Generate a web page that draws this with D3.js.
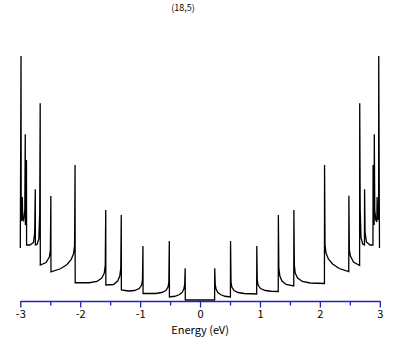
<!DOCTYPE html>
<html>
<head>
<meta charset="utf-8">
<script src="https://cdn.jsdelivr.net/npm/d3@7"></script>
<style>
  body { margin: 0; background: #fff; }
  svg { display: block; }
  text { font-family: "Noto Sans CJK JP", "DejaVu Sans", sans-serif; }
</style>
</head>
<body>
<div id="chart"></div>
<script>
// density of states (energy in eV, DOS in arbitrary units)
const valence = [
  [-3.000, 2.08], [-2.988, 9.76], [-2.985, 3.24], [-2.970, 3.16], [-2.966, 4.12], [-2.960, 3.28],
  [-2.945, 3.20], [-2.925, 3.60], [-2.917, 6.63], [-2.915, 3.00], [-2.904, 3.10], [-2.897, 5.60],
  [-2.895, 2.20], [-2.840, 2.20], [-2.780, 2.30], [-2.760, 2.70], [-2.750, 4.43], [-2.748, 2.20],
  [-2.720, 2.22], [-2.690, 2.45], [-2.676, 3.50], [-2.668, 7.87], [-2.666, 1.40], [-2.570, 1.50],
  [-2.515, 1.72], [-2.498, 2.00], [-2.490, 4.16], [-2.488, 1.13], [-2.330, 1.25], [-2.220, 1.42],
  [-2.150, 1.62], [-2.110, 1.86], [-2.094, 2.18], [-2.086, 5.40], [-2.084, 0.69], [-1.850, 0.69],
  [-1.720, 0.74], [-1.640, 0.88], [-1.598, 1.08], [-1.582, 1.40], [-1.574, 3.60], [-1.572, 0.60],
  [-1.445, 0.62], [-1.375, 0.76], [-1.340, 0.96], [-1.323, 1.28], [-1.315, 3.40], [-1.313, 0.40],
  [-1.195, 0.36], [-1.095, 0.38], [-1.015, 0.46], [-0.975, 0.60], [-0.961, 0.80], [-0.953, 2.16],
  [-0.951, 0.26], [-0.740, 0.26], [-0.640, 0.30], [-0.570, 0.38], [-0.535, 0.52], [-0.521, 0.72],
  [-0.513, 2.36], [-0.511, 0.12], [-0.420, 0.15], [-0.350, 0.21], [-0.300, 0.30], [-0.270, 0.44],
  [-0.256, 0.64], [-0.248, 1.27], [-0.246, 0.00], [0.000, 0.00]
]
const conduction = [
  [0.000, 0.00], [0.243, 0.00], [0.245, 1.27], [0.253, 0.64], [0.267, 0.44], [0.297, 0.30],
  [0.347, 0.21], [0.417, 0.15], [0.507, 0.12], [0.509, 2.36], [0.517, 0.72], [0.531, 0.52],
  [0.566, 0.38], [0.636, 0.30], [0.736, 0.26], [0.945, 0.24], [0.947, 2.16], [0.955, 0.80],
  [0.969, 0.60], [1.009, 0.46], [1.089, 0.38], [1.189, 0.35], [1.305, 0.34], [1.307, 3.40],
  [1.315, 1.28], [1.332, 0.96], [1.367, 0.76], [1.437, 0.62], [1.564, 0.56], [1.566, 3.60],
  [1.574, 1.40], [1.588, 1.08], [1.628, 0.88], [1.708, 0.74], [1.838, 0.68], [2.076, 0.66],
  [2.078, 5.40], [2.086, 2.20], [2.102, 1.88], [2.142, 1.64], [2.212, 1.44], [2.322, 1.26],
  [2.482, 1.14], [2.484, 4.17], [2.492, 2.00], [2.510, 1.76], [2.560, 1.52], [2.663, 1.38],
  [2.665, 7.87], [2.673, 3.60], [2.687, 2.48], [2.715, 2.24], [2.744, 2.20], [2.746, 4.43],
  [2.754, 2.72], [2.777, 2.32], [2.837, 2.20], [2.886, 2.20], [2.888, 5.40], [2.895, 3.12],
  [2.906, 3.00], [2.908, 6.63], [2.916, 3.60], [2.933, 3.20], [2.950, 3.12], [2.955, 4.12],
  [2.963, 3.28], [2.980, 3.20], [2.982, 9.76], [2.995, 2.08]
]
const majorTicks = [-3, -2, -1, 0, 1, 2, 3]
const minorTicks = [-2.5, -1.5, -0.5, 0.5, 1.5, 2.5]
const title = "(18,5)"
const xLabel = "Energy (eV)"

var width = 409, height = 345
var axisColor = "#2323b4"

const svg = d3.select("#chart")
    .append("svg")
        .attr("width", width)
        .attr("height", height)

const x = d3.scaleLinear().domain([-3, 3]).range([20.3, 379.8])
const y = d3.scaleLinear().domain([0, 10]).range([300, 50])

const line = d3.line()
    .x(d => x(d[0]))
    .y(d => y(d[1]))

svg.append("path")
    .datum(valence.concat(conduction.slice(1)))
    .attr("d", line)
    .attr("fill", "none")
    .attr("stroke", "black")
    .attr("stroke-width", 1.3)

// axis: minor ticks first, then the labelled major ones
const axisY = 301
svg.append("g")
    .attr("transform", "translate(0," + axisY + ")")
    .call(d3.axisBottom(x).tickValues(minorTicks).tickSize(4.5).tickSizeOuter(0).tickFormat(""))
    .call(g => g.select(".domain").remove())
    .call(g => g.selectAll("line").attr("stroke", axisColor).attr("stroke-width", 1.3))

const xAxis = svg.append("g")
    .attr("transform", "translate(0," + axisY + ")")
    .call(d3.axisBottom(x).tickValues(majorTicks).tickSize(6.5).tickSizeOuter(0).tickPadding(3)
        .tickFormat(d => String(d)))

xAxis.select(".domain").attr("stroke", axisColor).attr("stroke-width", 1.3)
xAxis.selectAll("line").attr("stroke", axisColor).attr("stroke-width", 1.3)
xAxis.selectAll("text")
    .attr("fill", "black")
    .style("font-size", "11px")

svg.append("text")
    .attr("x", x(0))
    .attr("y", 334)
    .attr("text-anchor", "middle")
    .style("font-size", "11px")
    .text(xLabel)

svg.append("text")
    .attr("x", 183)
    .attr("y", 11)
    .attr("text-anchor", "middle")
    .style("font-size", "9px")
    .text(title)
</script>
</body>
</html>
